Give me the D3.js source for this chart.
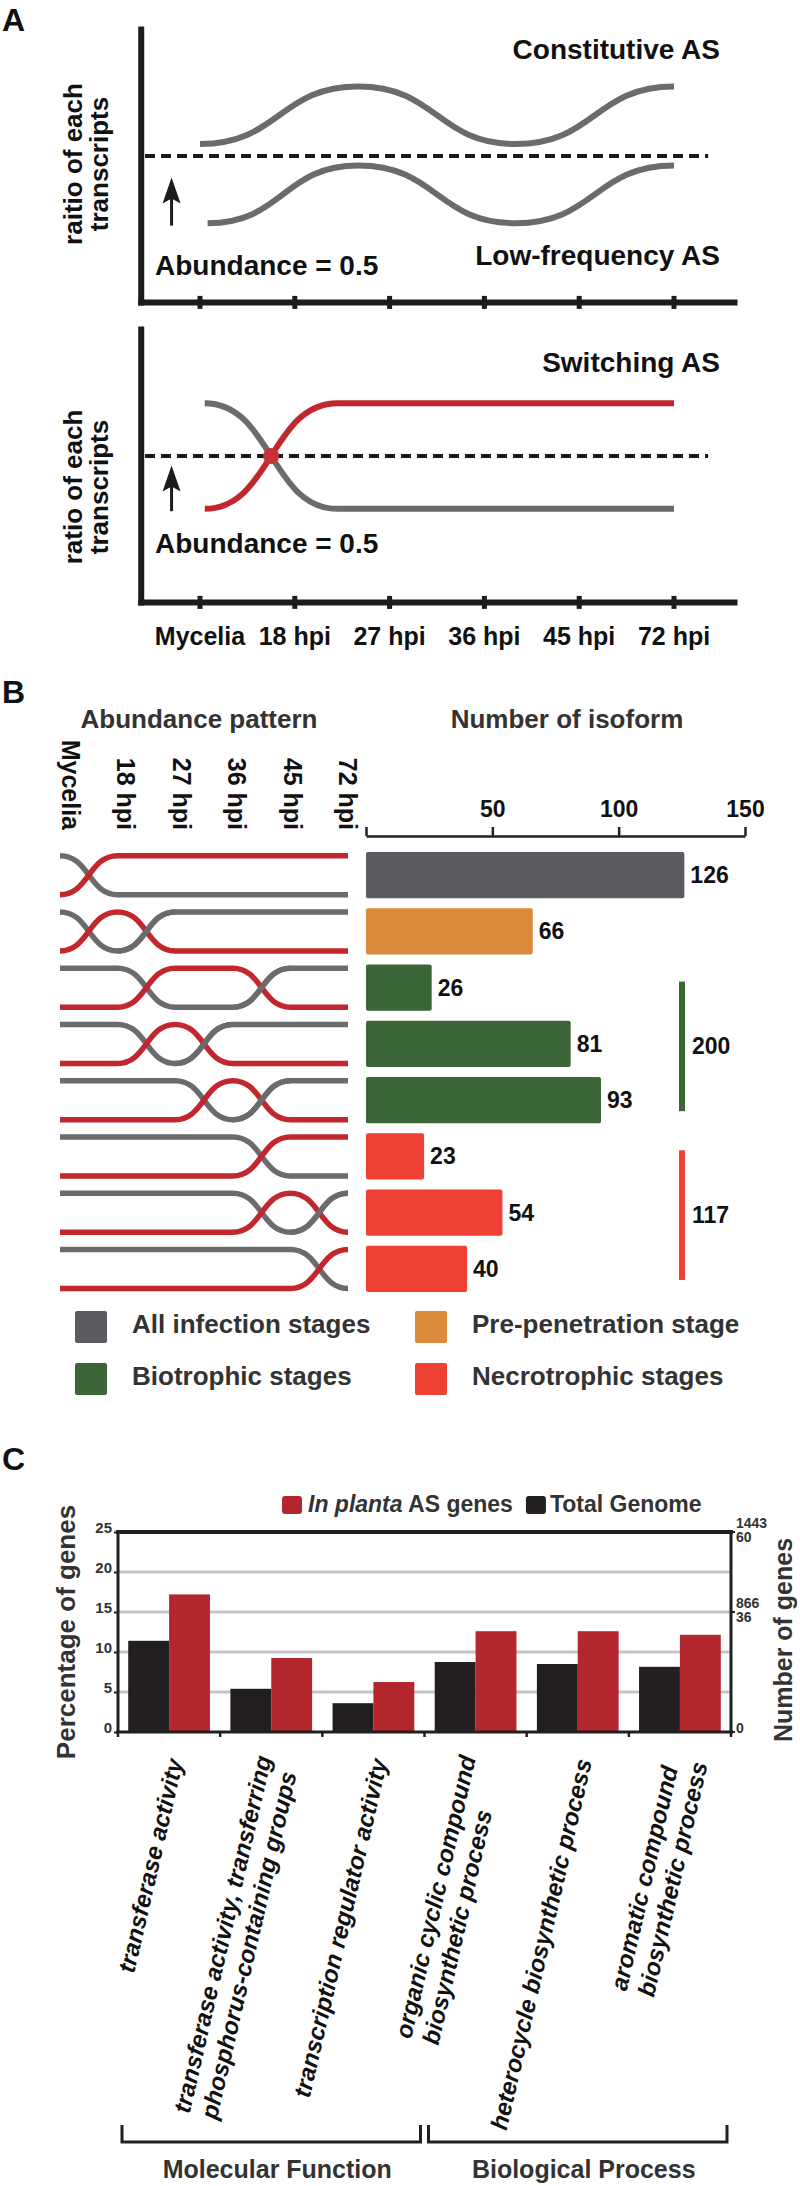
<!DOCTYPE html>
<html>
<head>
<meta charset="utf-8">
<script src="https://cdn.jsdelivr.net/npm/d3@7"></script>
<style>
  body { margin: 0; background: #fff; }
  svg { display: block; font-family: "Liberation Sans", Arial, Helvetica, sans-serif; }
</style>
</head>
<body>
<svg width="800" height="2186"></svg>
<script>
// ---------- data ----------
const timePoints = ['Mycelia', '18 hpi', '27 hpi', '36 hpi', '45 hpi', '72 hpi']

// panel A: schematic isoform ratios (x = time index, y = ratio)
const constitutiveX = [0, 1.67, 3.33, 5]
const constitutiveY = [0.55, 0.79, 0.55, 0.79]
const lowFreqX = [0.08, 1.67, 3.33, 5]
const lowFreqY = [0.22, 0.46, 0.22, 0.46]
const switchX = [0.05, 1.45, 5]
const switchGreyY = [0.72, 0.28, 0.28]
const switchRedY = [0.28, 0.72, 0.72]
const crossPoint = [0.75, 0.5]

// panel B: 1 = red isoform dominant at that time point
const patterns = [
    [0, 1, 1, 1, 1, 1],
    [0, 1, 0, 0, 0, 0],
    [0, 0, 1, 1, 0, 0],
    [0, 0, 1, 0, 0, 0],
    [0, 0, 0, 1, 0, 0],
    [0, 0, 0, 0, 1, 1],
    [0, 0, 0, 0, 1, 0],
    [0, 0, 0, 0, 0, 1]
]
const patternStage = ['all', 'pre', 'bio', 'bio', 'bio', 'necro', 'necro', 'necro']
const isoformCounts = [126, 66, 26, 81, 93, 23, 54, 40]
const isoformTicks = [0, 50, 100, 150]
const stageKeys = ['all', 'pre', 'bio', 'necro']
const stageNames = ['All infection stages', 'Pre-penetration stage', 'Biotrophic stages', 'Necrotrophic stages']
const stageColors = ['#5b5b60', '#db8a3c', '#3c6637', '#ee4035']
const stageTotals = [{stage: 'bio', rows: [2, 4], total: 200}, {stage: 'necro', rows: [5, 7], total: 117}]

// panel C
const goTerms = [
    ['transferase activity'],
    ['transferase activity, transferring', 'phosphorus-containing groups'],
    ['transcription regulator activity'],
    ['organic cyclic compound', 'biosynthetic process'],
    ['heterocycle biosynthetic process'],
    ['aromatic compound', 'biosynthetic process']
]
const totalGenome = [11.4, 5.4, 3.6, 8.75, 8.5, 8.15]
const inPlanta = [17.2, 9.25, 6.25, 12.6, 12.6, 12.15]
const pctTicks = [0, 5, 10, 15, 20, 25]
const geneTicks = [{pct: 0, lines: ['0']}, {pct: 15, lines: ['866', '36']}, {pct: 25, lines: ['1443', '60']}]
const ontology = [{name: 'Molecular Function', groups: [0, 2]}, {name: 'Biological Process', groups: [3, 5]}]

// ---------- setup ----------
const svg = d3.select('svg')
const RED = '#c1272d'
const GREY = '#6b6b6d'
const INK = '#1c1c1c'
const DARK = '#333'

const panelLetter = (t, y) => svg.append('text').text(t)
    .attr('x', 2).attr('y', y)
    .attr('font-size', 32).attr('font-weight', 'bold').attr('fill', '#111')

// ---------- Panel A ----------
panelLetter('A', 31)

const xA = d3.scaleLinear().domain([0, 5]).range([200, 674])
const lineA = d3.line().curve(d3.curveBumpX)

const schematics = [
    {
        y: d3.scaleLinear().domain([0, 1]).range([276, 36]),
        ylab: 'raitio of each', labY: 164,
        curves: [
            {x: constitutiveX, y: constitutiveY, c: GREY},
            {x: lowFreqX, y: lowFreqY, c: GREY}
        ],
        titles: [['Constitutive AS', 59], ['Low-frequency AS', 265]],
        abundY: 275, arrow: [0.21, 0.41]
    },
    {
        y: d3.scaleLinear().domain([0, 1]).range([576, 336]),
        ylab: 'ratio of each', labY: 487,
        curves: [
            {x: switchX, y: switchGreyY, c: GREY},
            {x: switchX, y: switchRedY, c: RED}
        ],
        titles: [['Switching AS', 372]],
        abundY: 553, arrow: [0.27, 0.46], dot: crossPoint
    }
]

schematics.forEach((s, k) => {
    const g = svg.append('g')
    const y = s.y
    const y0 = y(-0.11)

    // dashed 0.5 line
    g.append('line')
        .attr('x1', xA(-0.58)).attr('x2', xA(5.36))
        .attr('y1', y(0.5)).attr('y2', y(0.5))
        .attr('stroke', '#1a1a1a').attr('stroke-width', 4)
        .attr('stroke-dasharray', '10,6')

    s.curves.forEach(c => {
        g.append('path')
            .attr('d', lineA(c.x.map((v, i) => [xA(v), y(c.y[i])])))
            .attr('fill', 'none').attr('stroke', c.c).attr('stroke-width', 6)
    })

    if (s.dot) {
        g.append('circle')
            .attr('cx', xA(s.dot[0])).attr('cy', y(s.dot[1])).attr('r', 8)
            .attr('fill', '#c8313a')
    }

    // axes
    g.append('line')
        .attr('x1', xA(-0.62)).attr('x2', xA(-0.62))
        .attr('y1', y(1.04)).attr('y2', y0 + 3)
        .attr('stroke', INK).attr('stroke-width', 6)
    g.append('line')
        .attr('x1', xA(-0.62) - 3).attr('x2', xA(5.67))
        .attr('y1', y0).attr('y2', y0)
        .attr('stroke', INK).attr('stroke-width', 6)
    g.selectAll('rect.tick')
        .data(timePoints)
        .enter()
        .append('rect')
        .attr('x', (d, i) => xA(i) - 2.5)
        .attr('y', y0 - 6.5)
        .attr('width', 5).attr('height', 13)
        .attr('fill', INK)

    // arrow
    const ax = xA(-0.3)
    g.append('line')
        .attr('x1', ax).attr('x2', ax)
        .attr('y1', y(s.arrow[0])).attr('y2', y(s.arrow[1]) + 20)
        .attr('stroke', INK).attr('stroke-width', 3)
    g.append('path')
        .attr('d', `M${ax},${y(s.arrow[1])} L${ax + 9},${y(s.arrow[1]) + 26} L${ax},${y(s.arrow[1]) + 21} L${ax - 9},${y(s.arrow[1]) + 26} Z`)
        .attr('fill', INK)

    // texts
    s.titles.forEach(t => {
        g.append('text').text(t[0])
            .attr('x', 720).attr('y', t[1])
            .attr('text-anchor', 'end')
            .attr('font-size', 28).attr('font-weight', 'bold').attr('fill', '#111')
    })
    g.append('text').text('Abundance = 0.5')
        .attr('x', 155).attr('y', s.abundY)
        .attr('font-size', 28).attr('font-weight', 'bold').attr('fill', '#111')

    const yl = g.append('text')
        .attr('text-anchor', 'middle')
        .attr('font-size', 26).attr('font-weight', 'bold').attr('fill', '#111')
        .attr('transform', `translate(82,${s.labY}) rotate(-90)`)
    yl.append('tspan').attr('x', 0).attr('y', 0).text(s.ylab)
    yl.append('tspan').attr('x', 0).attr('y', 26).text('transcripts')

    if (k === 1) {
        g.selectAll('text.tl')
            .data(timePoints)
            .enter()
            .append('text')
            .text(d => d)
            .attr('x', (d, i) => xA(i))
            .attr('y', 645)
            .attr('text-anchor', 'middle')
            .attr('font-size', 25).attr('font-weight', 'bold').attr('fill', '#111')
    }
})

// ---------- Panel B ----------
panelLetter('B', 703)

svg.append('text').text('Abundance pattern')
    .attr('x', 199).attr('y', 728).attr('text-anchor', 'middle')
    .attr('font-size', 26).attr('font-weight', 'bold').attr('fill', DARK)
svg.append('text').text('Number of isoform')
    .attr('x', 567).attr('y', 728).attr('text-anchor', 'middle')
    .attr('font-size', 26).attr('font-weight', 'bold').attr('fill', DARK)

const yB = d3.scaleBand()
    .domain(d3.range(patterns.length))
    .range([847, 1297])
    .paddingInner(0.18)
    .paddingOuter(0.09)
const xT = d3.scalePoint().domain(timePoints).range([60, 348])
const xTLab = d3.scalePoint().domain(timePoints).range([62, 339])
const xB = d3.scaleLinear().domain([0, 150]).range([366, 745])
const stageColor = d3.scaleOrdinal().domain(stageKeys).range(stageColors)

// rotated time labels
svg.append('g')
    .selectAll('text')
    .data(timePoints)
    .enter()
    .append('text')
    .text(d => d)
    .attr('transform', d => `translate(${xTLab(d)},830) rotate(90)`)
    .attr('text-anchor', 'end')
    .attr('font-size', 25).attr('font-weight', 'bold').attr('fill', '#111')

// abundance pattern curves
const lineB = d3.line().curve(d3.curveBumpX)
const amp = 19.5
const gCurves = svg.append('g').attr('fill', 'none').attr('stroke-width', 5.5)
patterns.forEach((p, r) => {
    const c = yB(r) + yB.bandwidth() / 2
    const redPts = p.map((v, i) => [xT(timePoints[i]), v ? c - amp : c + amp])
    const greyPts = p.map((v, i) => [xT(timePoints[i]), v ? c + amp : c - amp])
    gCurves.append('path').attr('d', lineB(greyPts)).attr('stroke', GREY)
    gCurves.append('path').attr('d', lineB(redPts)).attr('stroke', RED)
    // where grey rises back on top, it crosses over the red line
    p.forEach((v, i) => {
        if (i < p.length - 1 && v === 1 && p[i + 1] === 0) {
            gCurves.append('path').attr('d', lineB(greyPts.slice(i, i + 2))).attr('stroke', GREY)
        }
    })
})

// bars
svg.append('g')
    .selectAll('rect')
    .data(isoformCounts)
    .enter()
    .append('rect')
    .attr('x', xB(0))
    .attr('y', (d, i) => yB(i))
    .attr('width', d => xB(d) - xB(0))
    .attr('height', yB.bandwidth())
    .attr('rx', 2)
    .attr('fill', (d, i) => stageColor(patternStage[i]))

svg.append('g')
    .selectAll('text')
    .data(isoformCounts)
    .enter()
    .append('text')
    .text(d => d)
    .attr('x', d => xB(d) + 6)
    .attr('y', (d, i) => yB(i) + yB.bandwidth() / 2 + 8)
    .attr('font-size', 23).attr('font-weight', 'bold').attr('fill', '#111')

// top axis
const axB = svg.append('g')
    .attr('transform', 'translate(0,836)')
    .call(d3.axisTop(xB).tickValues(isoformTicks).tickSize(9).tickSizeOuter(0).tickPadding(10)
        .tickFormat(d => d === 0 ? '' : d))
axB.attr('font-family', null)
axB.select('.domain').attr('stroke', '#222').attr('stroke-width', 2.5)
axB.selectAll('.tick line').attr('stroke', '#222').attr('stroke-width', 2.5)
axB.selectAll('.tick text')
    .attr('font-size', 23).attr('font-weight', 'bold').attr('fill', '#111')

// stage totals
stageTotals.forEach(s => {
    const top = yB(s.rows[0]) + 17
    const bot = yB(s.rows[1]) + yB.bandwidth() - 12
    svg.append('rect')
        .attr('x', 679).attr('y', top)
        .attr('width', 6).attr('height', bot - top)
        .attr('fill', stageColor(s.stage))
    svg.append('text').text(s.total)
        .attr('x', 692).attr('y', (top + bot) / 2 + 8)
        .attr('font-size', 23).attr('font-weight', 'bold').attr('fill', '#111')
})

// legend
const legB = svg.append('g')
    .selectAll('g')
    .data(stageKeys)
    .enter()
    .append('g')
    .attr('transform', (d, i) => `translate(${i % 2 === 0 ? 75 : 415},${i < 2 ? 1311 : 1363})`)
legB.append('rect')
    .attr('width', 32).attr('height', 32).attr('rx', 2)
    .attr('fill', d => stageColor(d))
legB.append('text')
    .text((d, i) => stageNames[i])
    .attr('x', 57).attr('y', 22)
    .attr('font-size', 26).attr('font-weight', 'bold').attr('fill', DARK)

// ---------- Panel C ----------
panelLetter('C', 1470)

const xC = d3.scaleBand()
    .domain(d3.range(goTerms.length))
    .range([118, 731])
    .paddingInner(0.2)
    .paddingOuter(0.1)
const xSub = d3.scaleBand().domain(['genome', 'planta']).range([0, xC.bandwidth()])
const yC = d3.scaleLinear().domain([0, 25]).range([1732, 1532])
const seriesColor = {genome: '#231f20', planta: '#b3262d'}

// gridlines
svg.append('g')
    .selectAll('line')
    .data(pctTicks.filter(d => d > 0 && d < 25))
    .enter()
    .append('line')
    .attr('x1', 118).attr('x2', 731)
    .attr('y1', d => yC(d)).attr('y2', d => yC(d))
    .attr('stroke', '#c4c4c4').attr('stroke-width', 3)

// bars
const groupsC = svg.append('g')
    .selectAll('g')
    .data(goTerms.map((t, i) => ({i, genome: totalGenome[i], planta: inPlanta[i]})))
    .enter()
    .append('g')
    .attr('transform', d => `translate(${xC(d.i)},0)`)
groupsC.selectAll('rect')
    .data(d => ['genome', 'planta'].map(k => ({k, v: d[k]})))
    .enter()
    .append('rect')
    .attr('x', d => xSub(d.k))
    .attr('y', d => yC(d.v))
    .attr('width', xSub.bandwidth())
    .attr('height', d => yC(0) - yC(d.v))
    .attr('fill', d => seriesColor[d.k])

// frame
const frame = svg.append('g').attr('stroke', '#231f20')
frame.append('line').attr('x1', 116).attr('x2', 733).attr('y1', yC(25)).attr('y2', yC(25)).attr('stroke-width', 4)
frame.append('line').attr('x1', 118).attr('x2', 118).attr('y1', yC(25)).attr('y2', yC(0)).attr('stroke-width', 3)
frame.append('line').attr('x1', 731).attr('x2', 731).attr('y1', yC(25)).attr('y2', yC(0)).attr('stroke-width', 3)
frame.append('line').attr('x1', 116).attr('x2', 733).attr('y1', yC(0)).attr('y2', yC(0)).attr('stroke-width', 3)
// group separator ticks on the bottom axis
frame.selectAll('line.sep')
    .data(d3.range(goTerms.length + 1))
    .enter()
    .append('line')
    .attr('x1', i => 118 + i * xC.step()).attr('x2', i => 118 + i * xC.step())
    .attr('y1', yC(0)).attr('y2', yC(0) + 5)
    .attr('stroke-width', 2.5)

// left axis
const axL = svg.append('g')
    .attr('transform', 'translate(118,0)')
    .call(d3.axisLeft(yC).tickValues(pctTicks).tickSize(4).tickPadding(2))
axL.attr('font-family', null)
axL.select('.domain').remove()
axL.selectAll('.tick line').attr('stroke', '#231f20').attr('stroke-width', 2)
axL.selectAll('.tick text')
    .attr('dy', '0.05em')
    .attr('font-size', 15).attr('font-weight', 'bold').attr('fill', DARK)

// right axis
const axR = svg.append('g')
geneTicks.forEach(t => {
    axR.append('line')
        .attr('x1', 731).attr('x2', 735)
        .attr('y1', yC(t.pct)).attr('y2', yC(t.pct))
        .attr('stroke', '#231f20').attr('stroke-width', 2)
    t.lines.forEach((s, j) => {
        axR.append('text').text(s)
            .attr('x', 736)
            .attr('y', yC(t.pct) + (t.lines.length > 1 ? -4 + j * 14 : 1))
            .attr('font-size', 14).attr('font-weight', 'bold').attr('fill', DARK)
    })
})

// axis titles
svg.append('text').text('Percentage of genes')
    .attr('transform', `translate(75,${(yC(25) + yC(0)) / 2}) rotate(-90)`)
    .attr('text-anchor', 'middle')
    .attr('font-size', 26).attr('font-weight', 'bold').attr('fill', DARK)
svg.append('text').text('Number of genes')
    .attr('transform', `translate(792,${(yC(25) + yC(0)) / 2 + 8}) rotate(-90)`)
    .attr('text-anchor', 'middle')
    .attr('font-size', 25).attr('font-weight', 'bold').attr('fill', DARK)

// legend
const legC = svg.append('g').attr('font-size', 23).attr('font-weight', 'bold').attr('fill', DARK)
legC.append('rect').attr('x', 282).attr('y', 1496).attr('width', 20).attr('height', 18).attr('rx', 3).attr('fill', seriesColor.planta)
const legT1 = legC.append('text').attr('x', 308).attr('y', 1512)
legT1.append('tspan').attr('font-style', 'italic').text('In planta')
legT1.append('tspan').text(' AS genes')
const l1end = 308 + legT1.node().getComputedTextLength()
legC.append('rect').attr('x', l1end + 13).attr('y', 1496).attr('width', 20).attr('height', 18).attr('rx', 3).attr('fill', seriesColor.genome)
legC.append('text').attr('x', l1end + 37).attr('y', 1512).text('Total Genome')

// rotated category labels
const ANG = -77
const lh = 28
goTerms.forEach((lines, i) => {
    const gc = xC(i) + xC.bandwidth() / 2 + 6
    const g = svg.append('g')
        .attr('transform', `translate(${gc},1759) rotate(${ANG})`)
        .attr('font-size', 24).attr('font-weight', 'bold').attr('font-style', 'italic').attr('fill', '#111')
    const texts = lines.map(s => g.append('text').text(s))
    const maxLen = d3.max(texts, t => t.node().getComputedTextLength())
    const shift = -((lines.length - 1) * lh / 2) + 8.4
    texts.forEach((t, j) => t.attr('x', -maxLen).attr('y', shift + j * lh))
})

// ontology brackets
ontology.forEach(o => {
    const x1 = 118 + o.groups[0] * xC.step() + 4
    const x2 = 118 + (o.groups[1] + 1) * xC.step() - 4
    svg.append('path')
        .attr('d', `M${x1},2125 V2142 H${x2} V2125`)
        .attr('fill', 'none').attr('stroke', '#231f20').attr('stroke-width', 3)
    svg.append('text').text(o.name)
        .attr('x', (x1 + x2) / 2 + 6).attr('y', 2178)
        .attr('text-anchor', 'middle')
        .attr('font-size', 25).attr('font-weight', 'bold').attr('fill', DARK)
})
</script>
</body>
</html>
